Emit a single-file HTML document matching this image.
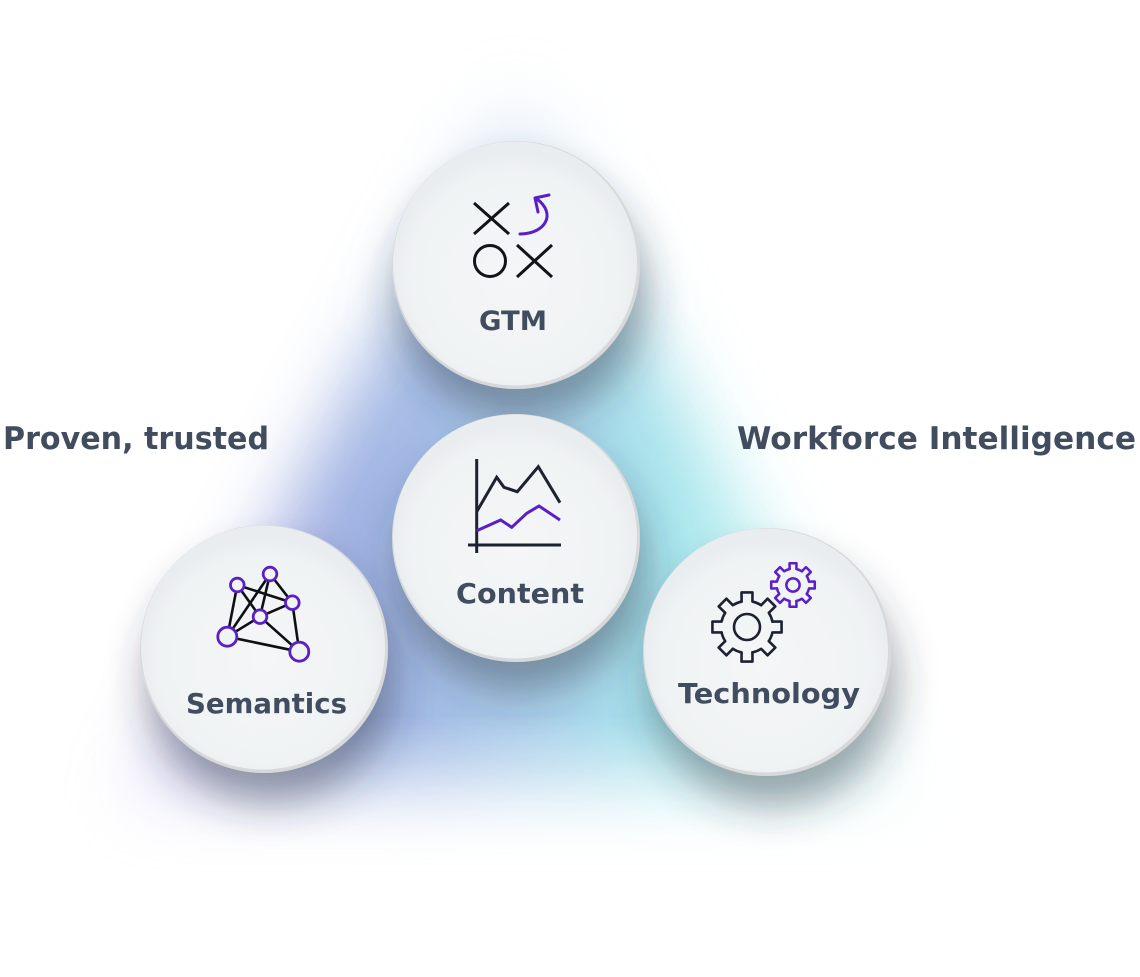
<!DOCTYPE html>
<html><head><meta charset="utf-8"><style>
html,body{margin:0;padding:0;background:#fff;}
svg{display:block;}
text{font-family:"DejaVu Sans","Liberation Sans",sans-serif;font-weight:bold;fill:#414d5f;}
</style></head><body>
<svg width="1140" height="977" viewBox="0 0 1140 977" xmlns="http://www.w3.org/2000/svg">
<defs>
  <linearGradient id="glow" gradientUnits="userSpaceOnUse" x1="140" y1="0" x2="890" y2="0">
    <stop offset="0" stop-color="#cfc6f4"/>
    <stop offset="0.25" stop-color="#95a6df"/>
    <stop offset="0.5" stop-color="#a6c8e8"/>
    <stop offset="0.72" stop-color="#a0e6eb"/>
    <stop offset="1" stop-color="#d6f5f5"/>
  </linearGradient>
  <linearGradient id="vfade" gradientUnits="userSpaceOnUse" x1="0" y1="60" x2="0" y2="880">
    <stop offset="0" stop-color="#333"/>
    <stop offset="0.2" stop-color="#bbb"/>
    <stop offset="0.35" stop-color="#fff"/>
    <stop offset="0.8" stop-color="#fff"/>
    <stop offset="1" stop-color="#000"/>
  </linearGradient>
  <mask id="vm" maskUnits="userSpaceOnUse" x="0" y="0" width="1140" height="977">
    <rect x="0" y="0" width="1140" height="977" fill="url(#vfade)"/>
  </mask>
  <filter id="blur" x="-30%" y="-30%" width="160%" height="160%">
    <feGaussianBlur stdDeviation="38"/>
  </filter>
  <filter id="sh" x="-50%" y="-50%" width="200%" height="200%">
    <feDropShadow dx="6" dy="30" stdDeviation="20" flood-color="#2b3642" flood-opacity="0.42"/>
  </filter>
  <radialGradient id="face" cx="0.5" cy="0.55" r="0.5">
    <stop offset="0" stop-color="#f4f6f7"/>
    <stop offset="0.85" stop-color="#f0f3f4"/>
    <stop offset="1" stop-color="#eaedef"/>
  </radialGradient>
</defs>

<!-- glow -->
<g mask="url(#vm)">
  <polygon points="515,85 130,810 900,810" fill="url(#glow)" filter="url(#blur)" opacity="0.95"/>
</g>

<!-- circles -->
<g filter="url(#sh)">
  <circle cx="516" cy="265" r="124" fill="#d6d8da"/>
  <circle cx="515" cy="263.5" r="122" fill="url(#face)"/>
</g>
<g filter="url(#sh)">
  <circle cx="516" cy="538" r="124" fill="#d6d8da"/>
  <circle cx="515" cy="536.5" r="122" fill="url(#face)"/>
</g>
<g filter="url(#sh)">
  <circle cx="264" cy="649" r="124" fill="#d6d8da"/>
  <circle cx="263" cy="647.5" r="122" fill="url(#face)"/>
</g>
<g filter="url(#sh)">
  <circle cx="767" cy="652" r="124" fill="#d6d8da"/>
  <circle cx="766" cy="650.5" r="122" fill="url(#face)"/>
</g>

<!-- GTM icon -->
<g stroke="#111418" stroke-width="3" fill="none" stroke-linecap="butt">
  <line x1="474" y1="203" x2="509" y2="234"/>
  <line x1="509" y1="203" x2="474" y2="234"/>
  <line x1="517" y1="245" x2="552" y2="277"/>
  <line x1="552" y1="245" x2="517" y2="277"/>
  <circle cx="490" cy="261" r="15.5"/>
</g>
<g stroke="#5a1fc6" stroke-width="3" fill="none" stroke-linecap="round" stroke-linejoin="round">
  <path d="M520,234 C545,234 557,214 537,199"/>
  <path d="M549,195 L535,198 L538,212"/>
</g>
<text x="479" y="330" font-size="27" textLength="68" lengthAdjust="spacingAndGlyphs">GTM</text>

<!-- Content icon -->
<g fill="none" stroke-width="3" stroke-linejoin="miter">
  <line x1="476.7" y1="459" x2="476.7" y2="553" stroke="#1c2230"/>
  <line x1="468" y1="545" x2="561" y2="545" stroke="#1c2230"/>
  <polyline points="476.7,511.7 496.7,477.3 504,487.3 517.3,491.7 538.3,466.7 560,502.7" stroke="#1c2230"/>
  <polyline points="476.7,530.7 500.7,520 511.7,527.3 526.7,513.3 539,506 560,520" stroke="#5a1fc6"/>
</g>
<text x="456" y="603" font-size="28" textLength="128" lengthAdjust="spacingAndGlyphs">Content</text>

<!-- Semantics icon -->
<g stroke="#0e1014" stroke-width="2.6" fill="none">
  <line x1="237.3" y1="585" x2="292.3" y2="602.7"/>
  <line x1="237.3" y1="585" x2="260" y2="616.7"/>
  <line x1="237.3" y1="585" x2="227.3" y2="636.7"/>
  <line x1="270" y1="574" x2="227.3" y2="636.7"/>
  <line x1="270" y1="574" x2="260" y2="616.7"/>
  <line x1="270" y1="574" x2="292.3" y2="602.7"/>
  <line x1="260" y1="616.7" x2="227.3" y2="636.7"/>
  <line x1="260" y1="616.7" x2="292.3" y2="602.7"/>
  <line x1="260" y1="616.7" x2="299.3" y2="651.7"/>
  <line x1="227.3" y1="636.7" x2="299.3" y2="651.7"/>
  <line x1="292.3" y1="602.7" x2="299.3" y2="651.7"/>
</g>
<g stroke="#5a1fc6" stroke-width="2.8" fill="#f1f4f5">
  <circle cx="237.3" cy="585" r="6.8"/>
  <circle cx="270" cy="574" r="6.8"/>
  <circle cx="292.3" cy="602.7" r="6.8"/>
  <circle cx="260" cy="616.7" r="6.8"/>
  <circle cx="227.3" cy="636.7" r="9.5"/>
  <circle cx="299.3" cy="651.7" r="9.5"/>
</g>
<text x="186" y="713" font-size="28" textLength="161" lengthAdjust="spacingAndGlyphs">Semantics</text>

<!-- Technology icon -->
<g transform="translate(747,627)" fill="none" stroke="#1c2230" stroke-width="2.6" stroke-linejoin="round" stroke-linecap="round">
  <path d="M25.43,-5.41 L34.57,-5.48 L34.57,5.48 L25.43,5.41 A26,26 0 0 1 21.81,14.16"/>
  <path transform="rotate(45)" d="M25.43,-5.41 L34.57,-5.48 L34.57,5.48 L25.43,5.41 A26,26 0 0 1 21.81,14.16"/>
  <path transform="rotate(90)" d="M25.43,-5.41 L34.57,-5.48 L34.57,5.48 L25.43,5.41 A26,26 0 0 1 21.81,14.16"/>
  <path transform="rotate(135)" d="M25.43,-5.41 L34.57,-5.48 L34.57,5.48 L25.43,5.41 A26,26 0 0 1 21.81,14.16"/>
  <path transform="rotate(180)" d="M25.43,-5.41 L34.57,-5.48 L34.57,5.48 L25.43,5.41 A26,26 0 0 1 21.81,14.16"/>
  <path transform="rotate(225)" d="M25.43,-5.41 L34.57,-5.48 L34.57,5.48 L25.43,5.41 A26,26 0 0 1 21.81,14.16"/>
  <path transform="rotate(270)" d="M25.43,-5.41 L34.57,-5.48 L34.57,5.48 L25.43,5.41 A26,26 0 0 1 21.81,14.16"/>
  <path transform="rotate(315)" d="M25.43,-5.41 L34.57,-5.48 L34.57,5.48 L25.43,5.41 A26,26 0 0 1 21.81,14.16"/>
  <circle cx="0" cy="0" r="13"/>
</g>
<g transform="translate(793,585) scale(0.63)" fill="none" stroke="#5a1fc6" stroke-width="4" stroke-linejoin="round" stroke-linecap="round">
  <path d="M25.43,-5.41 L34.57,-5.48 L34.57,5.48 L25.43,5.41 A26,26 0 0 1 21.81,14.16"/>
  <path transform="rotate(45)" d="M25.43,-5.41 L34.57,-5.48 L34.57,5.48 L25.43,5.41 A26,26 0 0 1 21.81,14.16"/>
  <path transform="rotate(90)" d="M25.43,-5.41 L34.57,-5.48 L34.57,5.48 L25.43,5.41 A26,26 0 0 1 21.81,14.16"/>
  <path transform="rotate(135)" d="M25.43,-5.41 L34.57,-5.48 L34.57,5.48 L25.43,5.41 A26,26 0 0 1 21.81,14.16"/>
  <path transform="rotate(180)" d="M25.43,-5.41 L34.57,-5.48 L34.57,5.48 L25.43,5.41 A26,26 0 0 1 21.81,14.16"/>
  <path transform="rotate(225)" d="M25.43,-5.41 L34.57,-5.48 L34.57,5.48 L25.43,5.41 A26,26 0 0 1 21.81,14.16"/>
  <path transform="rotate(270)" d="M25.43,-5.41 L34.57,-5.48 L34.57,5.48 L25.43,5.41 A26,26 0 0 1 21.81,14.16"/>
  <path transform="rotate(315)" d="M25.43,-5.41 L34.57,-5.48 L34.57,5.48 L25.43,5.41 A26,26 0 0 1 21.81,14.16"/>
  <circle cx="0" cy="0" r="10.5"/>
</g>
<text x="678" y="703" font-size="28" textLength="182" lengthAdjust="spacingAndGlyphs">Technology</text>

<!-- side labels -->
<text x="3" y="449" font-size="31" textLength="266" lengthAdjust="spacingAndGlyphs">Proven, trusted</text>
<text x="737" y="449" font-size="31" textLength="399" lengthAdjust="spacingAndGlyphs">Workforce Intelligence</text>
</svg>
</body></html>
